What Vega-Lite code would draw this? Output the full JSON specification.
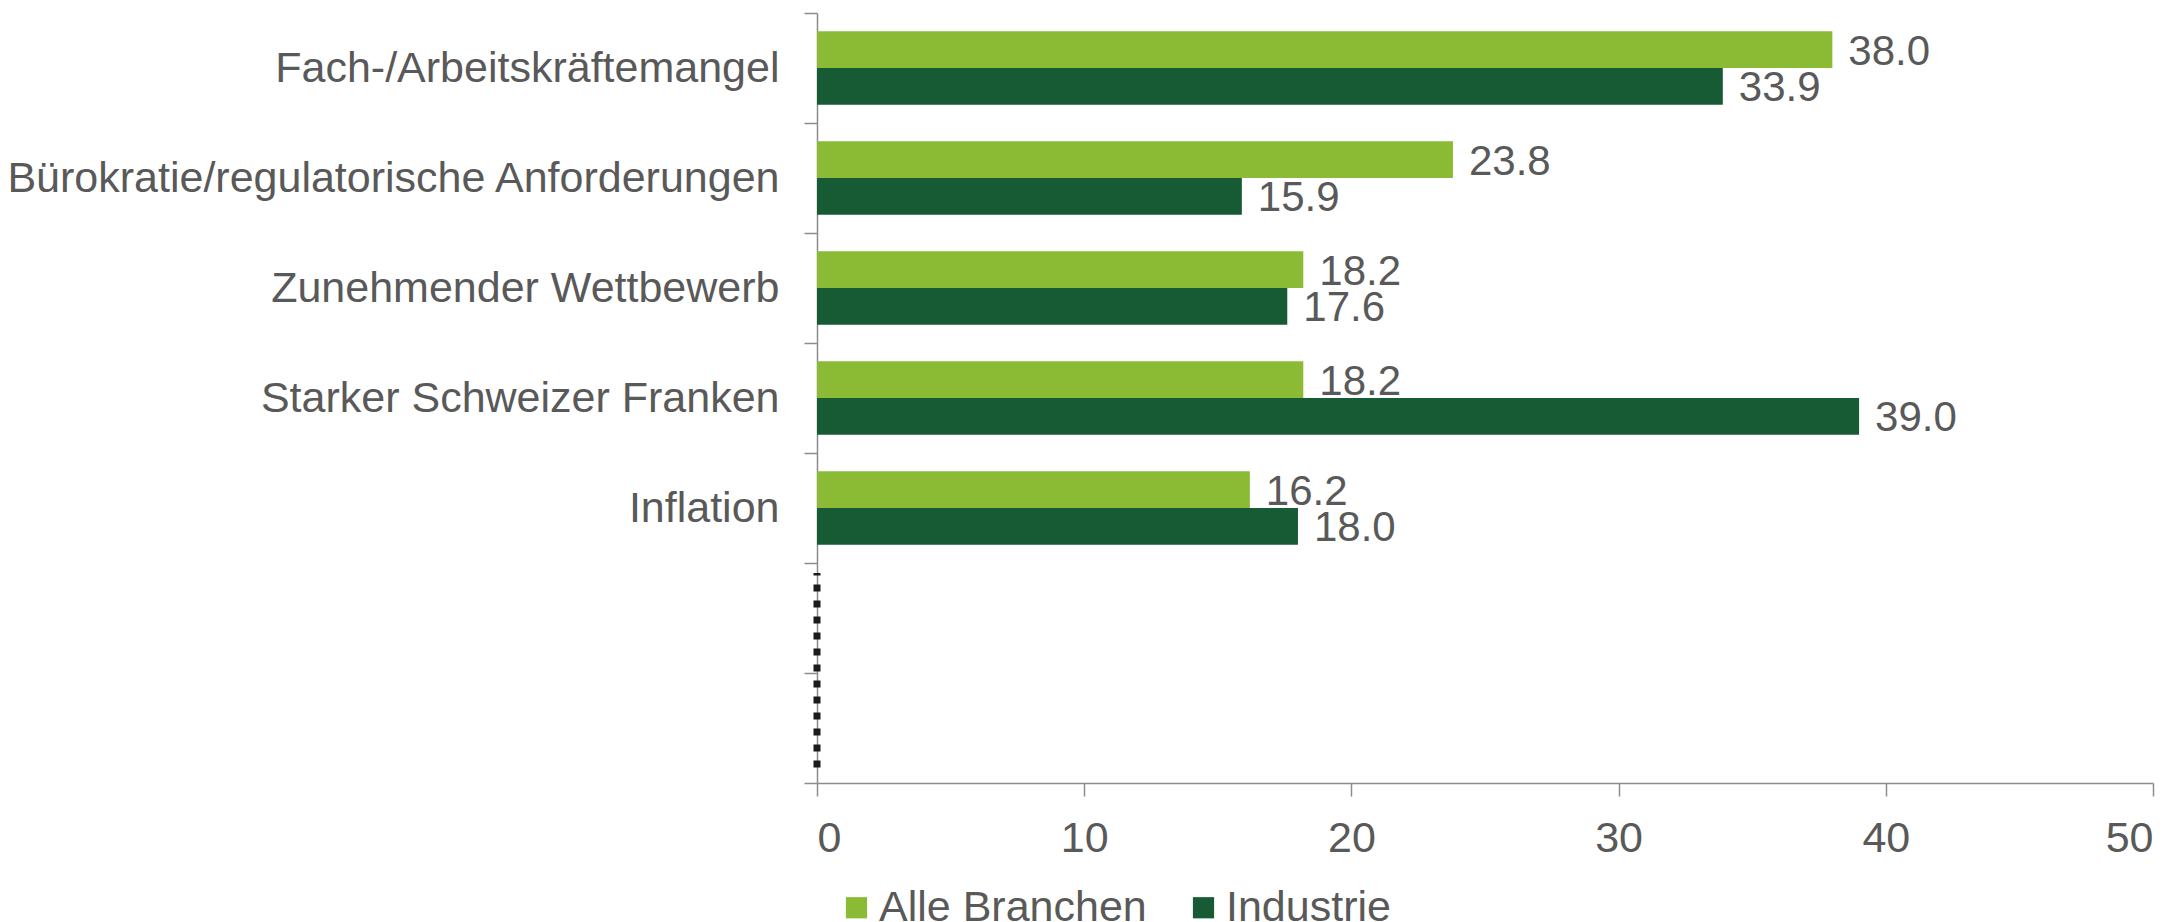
{
  "$schema": "https://vega.github.io/schema/vega-lite/v6.json",
  "width": 1336,
  "height": 770,
  "autosize": {"type": "none"},
  "padding": {"left": 817, "top": 13, "right": 29, "bottom": 139},
  "background": "white",
  "config": {
    "view": {"stroke": null},
    "font": "Liberation Sans",
    "axis": {
      "domainColor": "#8c8c8c",
      "domainWidth": 1.5,
      "tickColor": "#8c8c8c",
      "tickWidth": 1.5,
      "tickSize": 13,
      "labelColor": "#595959",
      "labelFont": "Liberation Sans",
      "labelFontSize": 43,
      "grid": false,
      "title": null
    }
  },
  "datasets": {
    "bars": [
      {"Kategorie": "Fach-/Arbeitskräftemangel", "Serie": "Alle Branchen", "Wert": 38.0},
      {"Kategorie": "Fach-/Arbeitskräftemangel", "Serie": "Industrie", "Wert": 33.9},
      {"Kategorie": "Bürokratie/regulatorische Anforderungen", "Serie": "Alle Branchen", "Wert": 23.8},
      {"Kategorie": "Bürokratie/regulatorische Anforderungen", "Serie": "Industrie", "Wert": 15.9},
      {"Kategorie": "Zunehmender Wettbewerb", "Serie": "Alle Branchen", "Wert": 18.2},
      {"Kategorie": "Zunehmender Wettbewerb", "Serie": "Industrie", "Wert": 17.6},
      {"Kategorie": "Starker Schweizer Franken", "Serie": "Alle Branchen", "Wert": 18.2},
      {"Kategorie": "Starker Schweizer Franken", "Serie": "Industrie", "Wert": 39.0},
      {"Kategorie": "Inflation", "Serie": "Alle Branchen", "Wert": 16.2},
      {"Kategorie": "Inflation", "Serie": "Industrie", "Wert": 18.0}
    ],
    "dotted": [
      {"x": 0, "von": 0.14, "bis": 1.91}
    ]
  },
  "layer": [
    {
      "data": {"name": "bars"},
      "encoding": {
        "y": {
          "field": "Kategorie",
          "type": "nominal",
          "scale": {
            "domain": ["Fach-/Arbeitskräftemangel", "Bürokratie/regulatorische Anforderungen", "Zunehmender Wettbewerb", "Starker Schweizer Franken", "Inflation", " ", "  "],
            "paddingInner": 0,
            "paddingOuter": 0
          },
          "axis": {"tickBand": "extent", "labelPadding": 25, "labelLimit": 0}
        },
        "yOffset": {
          "field": "Serie",
          "type": "nominal",
          "scale": {"domain": ["Alle Branchen", "Industrie"], "paddingInner": 0, "paddingOuter": 0.5}
        },
        "x": {
          "field": "Wert",
          "type": "quantitative",
          "scale": {"domain": [0, 50], "nice": false},
          "axis": {"values": [0, 10, 20, 30, 40, 50], "labelPadding": 21, "format": "d"}
        }
      },
      "layer": [
        {
          "mark": {"type": "bar"},
          "encoding": {
            "color": {
              "field": "Serie",
              "type": "nominal",
              "scale": {"domain": ["Alle Branchen", "Industrie"], "range": ["#8BBB34", "#175B35"]},
              "legend": {
                "orient": "none",
                "legendX": 18,
                "legendY": 873,
                "direction": "horizontal",
                "title": null,
                "symbolType": "square",
                "symbolSize": 450,
                "symbolStrokeWidth": 0,
                "labelFontSize": 43,
                "labelColor": "#595959",
                "labelFont": "Liberation Sans",
                "labelOffset": 1,
                "columnPadding": 35,
                "padding": 0,
                "labelLimit": 0
              }
            }
          }
        },
        {
          "mark": {"type": "text", "align": "left", "baseline": "middle", "dx": 16, "dy": 2, "fontSize": 42, "color": "#595959", "font": "Liberation Sans"},
          "encoding": {
            "text": {"field": "Wert", "type": "quantitative", "format": ".1f"}
          }
        }
      ]
    },
    {
      "data": {"name": "dotted"},
      "mark": {"type": "rule", "color": "#1a1a1a", "strokeWidth": 7, "strokeDash": [7, 9]},
      "encoding": {
        "x": {"field": "x", "type": "quantitative"},
        "y": {"field": "von", "type": "quantitative", "scale": {"domain": [0, 7], "nice": false}, "axis": null},
        "y2": {"field": "bis"}
      }
    }
  ],
  "resolve": {"scale": {"y": "independent"}}
}
